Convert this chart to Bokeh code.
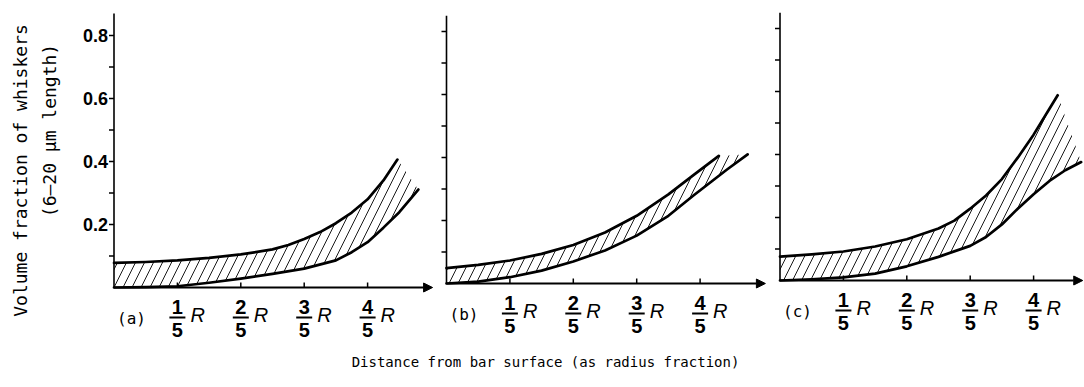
import math
from bokeh.plotting import figure
from bokeh.models import Range1d, Arrow, NormalHead
from bokeh.core.properties import value
from bokeh.embed import file_html
from bokeh.resources import INLINE

# ---------------- data ----------------
panel_names = ["a", "b", "c"]
panel_labels = ["(a)", "(b)", "(c)"]

a_upper_x = [0, 0.1, 0.2, 0.3, 0.4, 0.5, 0.55, 0.6, 0.65, 0.7, 0.75, 0.8, 0.85, 0.894]
a_upper_y = [0.078, 0.081, 0.086, 0.094, 0.105, 0.121, 0.135, 0.154, 0.176, 0.204, 0.238, 0.28, 0.34, 0.406]
a_lower_x = [0, 0.1, 0.2, 0.3, 0.4, 0.5, 0.6, 0.7, 0.75, 0.8, 0.85, 0.9, 0.96]
a_lower_y = [0, 0.001, 0.004, 0.015, 0.028, 0.043, 0.06, 0.086, 0.112, 0.144, 0.19, 0.239, 0.311]

b_upper_x = [0, 0.1, 0.2, 0.3, 0.4, 0.5, 0.6, 0.7, 0.78, 0.859]
b_upper_y = [0.049, 0.059, 0.073, 0.094, 0.122, 0.162, 0.215, 0.283, 0.345, 0.405]
b_lower_x = [0, 0.1, 0.2, 0.3, 0.4, 0.5, 0.6, 0.7, 0.78, 0.885, 0.95]
b_lower_y = [0, 0.006, 0.02, 0.041, 0.07, 0.105, 0.152, 0.215, 0.28, 0.362, 0.41]

c_upper_x = [0, 0.1, 0.2, 0.3, 0.4, 0.5, 0.55, 0.6, 0.65, 0.7, 0.75, 0.8, 0.85, 0.876]
c_upper_y = [0.076, 0.083, 0.092, 0.108, 0.131, 0.165, 0.19, 0.228, 0.27, 0.322, 0.39, 0.463, 0.545, 0.588]
c_lower_x = [0, 0.1, 0.2, 0.3, 0.4, 0.5, 0.6, 0.65, 0.7, 0.75, 0.8, 0.85, 0.9, 0.95]
c_lower_y = [0, 0.004, 0.01, 0.022, 0.045, 0.075, 0.11, 0.138, 0.178, 0.228, 0.274, 0.316, 0.35, 0.376]

upper_x = [a_upper_x, b_upper_x, c_upper_x]
upper_y = [a_upper_y, b_upper_y, c_upper_y]
lower_x = [a_lower_x, b_lower_x, c_lower_x]
lower_y = [a_lower_y, b_lower_y, c_lower_y]

y_ticks = [0.1, 0.2, 0.3, 0.4, 0.5, 0.6, 0.7, 0.8]
y_label_values = [0.2, 0.4, 0.6, 0.8]
y_label_texts = ["0.2", "0.4", "0.6", "0.8"]
x_ticks = [0.2, 0.4, 0.6, 0.8]
x_tick_numerators = ["1", "2", "3", "4"]
x_tick_denominators = ["5", "5", "5", "5"]
x_tick_unit = "R"

y_title_1 = "Volume fraction of whiskers"
y_title_2 = "(6–20 μm length)"
x_title = "Distance from bar surface (as radius fraction)"

# ---------------- layout (pixels) ----------------
W, H = 1084, 387
SX, SY = 317.0, 315.0
origin_px = [113.5, 446.0, 779.5]
zero_px = [287.0, 283.0, 280.0]
x_axis_end = [1.005, 1.006, 0.955]
y_axis_top = [0.87, 0.85, 0.85]

p = figure(width=W, height=H, x_range=Range1d(0, W), y_range=Range1d(0, H),
           min_border=0, toolbar_location=None, output_backend="svg",
           x_axis_type=None, y_axis_type=None, outline_line_color=None)
p.background_fill_color = "white"
p.border_fill_color = "white"

TXT = "DejaVu Sans Mono"
NUM = "Liberation Sans"

for i, k in enumerate(panel_names):
    ox, zy = origin_px[i], zero_px[i]
    p.extra_x_ranges[k] = Range1d(-ox / SX, (W - ox) / SX)
    p.extra_y_ranges[k] = Range1d(-(H - zy) / SY, zy / SY)
    kw = dict(x_range_name=k, y_range_name=k)

    # hatched band
    xs = list(upper_x[i]) + list(reversed(lower_x[i]))
    ys = list(upper_y[i]) + list(reversed(lower_y[i]))
    p.patch(xs, ys, fill_color=None, line_color=None, hatch_pattern="/",
            hatch_color="black", hatch_weight=0.9, hatch_scale=18, **kw)
    p.line(upper_x[i], upper_y[i], line_color="black", line_width=2.7, line_cap="round",
           line_join="round", **kw)
    p.line(lower_x[i], lower_y[i], line_color="black", line_width=2.7, line_cap="round",
           line_join="round", **kw)

    # y axis and ticks
    p.segment(x0=[0], y0=[0], x1=[0], y1=[y_axis_top[i]], line_color="black", line_width=1.6, **kw)
    tl = 5 / SX
    p.segment(x0=[-tl] * len(y_ticks), y0=y_ticks, x1=[0] * len(y_ticks), y1=y_ticks,
              line_color="black", line_width=1.5, **kw)

    # x axis with arrow
    p.add_layout(Arrow(end=NormalHead(size=9, fill_color="black", line_color="black"),
                       x_start=0, y_start=0, x_end=x_axis_end[i], y_end=0,
                       line_color="black", line_width=1.8, **kw))
    th = 5 / SY
    p.segment(x0=x_ticks, y0=[0] * len(x_ticks), x1=x_ticks, y1=[th] * len(x_ticks),
              line_color="black", line_width=1.5, **kw)

    # fraction tick labels
    p.text(x=x_ticks, y=[0] * len(x_ticks), text=x_tick_numerators, y_offset=19,
           text_align="center", text_baseline="middle", text_font=value(NUM),
           text_font_style="bold", text_font_size="20px", text_color="black", **kw)
    p.text(x=x_ticks, y=[0] * len(x_ticks), text=x_tick_denominators, y_offset=42,
           text_align="center", text_baseline="middle", text_font=value(NUM),
           text_font_style="bold", text_font_size="20px", text_color="black", **kw)
    bh, by = 8 / SX, -30 / SY
    p.segment(x0=[t - bh for t in x_ticks], y0=[by] * len(x_ticks),
              x1=[t + bh for t in x_ticks], y1=[by] * len(x_ticks),
              line_color="black", line_width=2, **kw)
    p.text(x=x_ticks, y=[0] * len(x_ticks), text=[x_tick_unit] * len(x_ticks),
           x_offset=13, y_offset=27, text_align="left", text_baseline="middle",
           text_font=value(NUM), text_font_style="italic", text_font_size="20px",
           text_color="black", **kw)

    # panel label
    p.text(x=[0], y=[0], text=[panel_labels[i]], x_offset=3, y_offset=31,
           text_align="left", text_baseline="middle", text_font=value(TXT),
           text_font_size="16px", text_color="black", **kw)

    if k == "a":
        p.text(x=[0] * len(y_label_values), y=y_label_values, text=y_label_texts,
               x_offset=-6, text_align="right", text_baseline="middle",
               text_font=value(NUM), text_font_style="bold", text_font_size="18px",
               text_color="black", **kw)

# axis titles (default canvas-pixel range)
p.text(x=[20], y=[H - 170], text=[y_title_1], angle=math.pi / 2, text_align="center",
       text_baseline="middle", text_font=value(TXT), text_font_size="18px", text_color="black")
p.text(x=[49], y=[H - 130], text=[y_title_2], angle=math.pi / 2, text_align="center",
       text_baseline="middle", text_font=value(TXT), text_font_size="18px", text_color="black")
p.text(x=[545], y=[H - 361], text=[x_title], text_align="center", text_baseline="middle",
       text_font=value(TXT), text_font_size="14px", text_color="black")

open("out.html", "w").write(file_html(p, INLINE))
